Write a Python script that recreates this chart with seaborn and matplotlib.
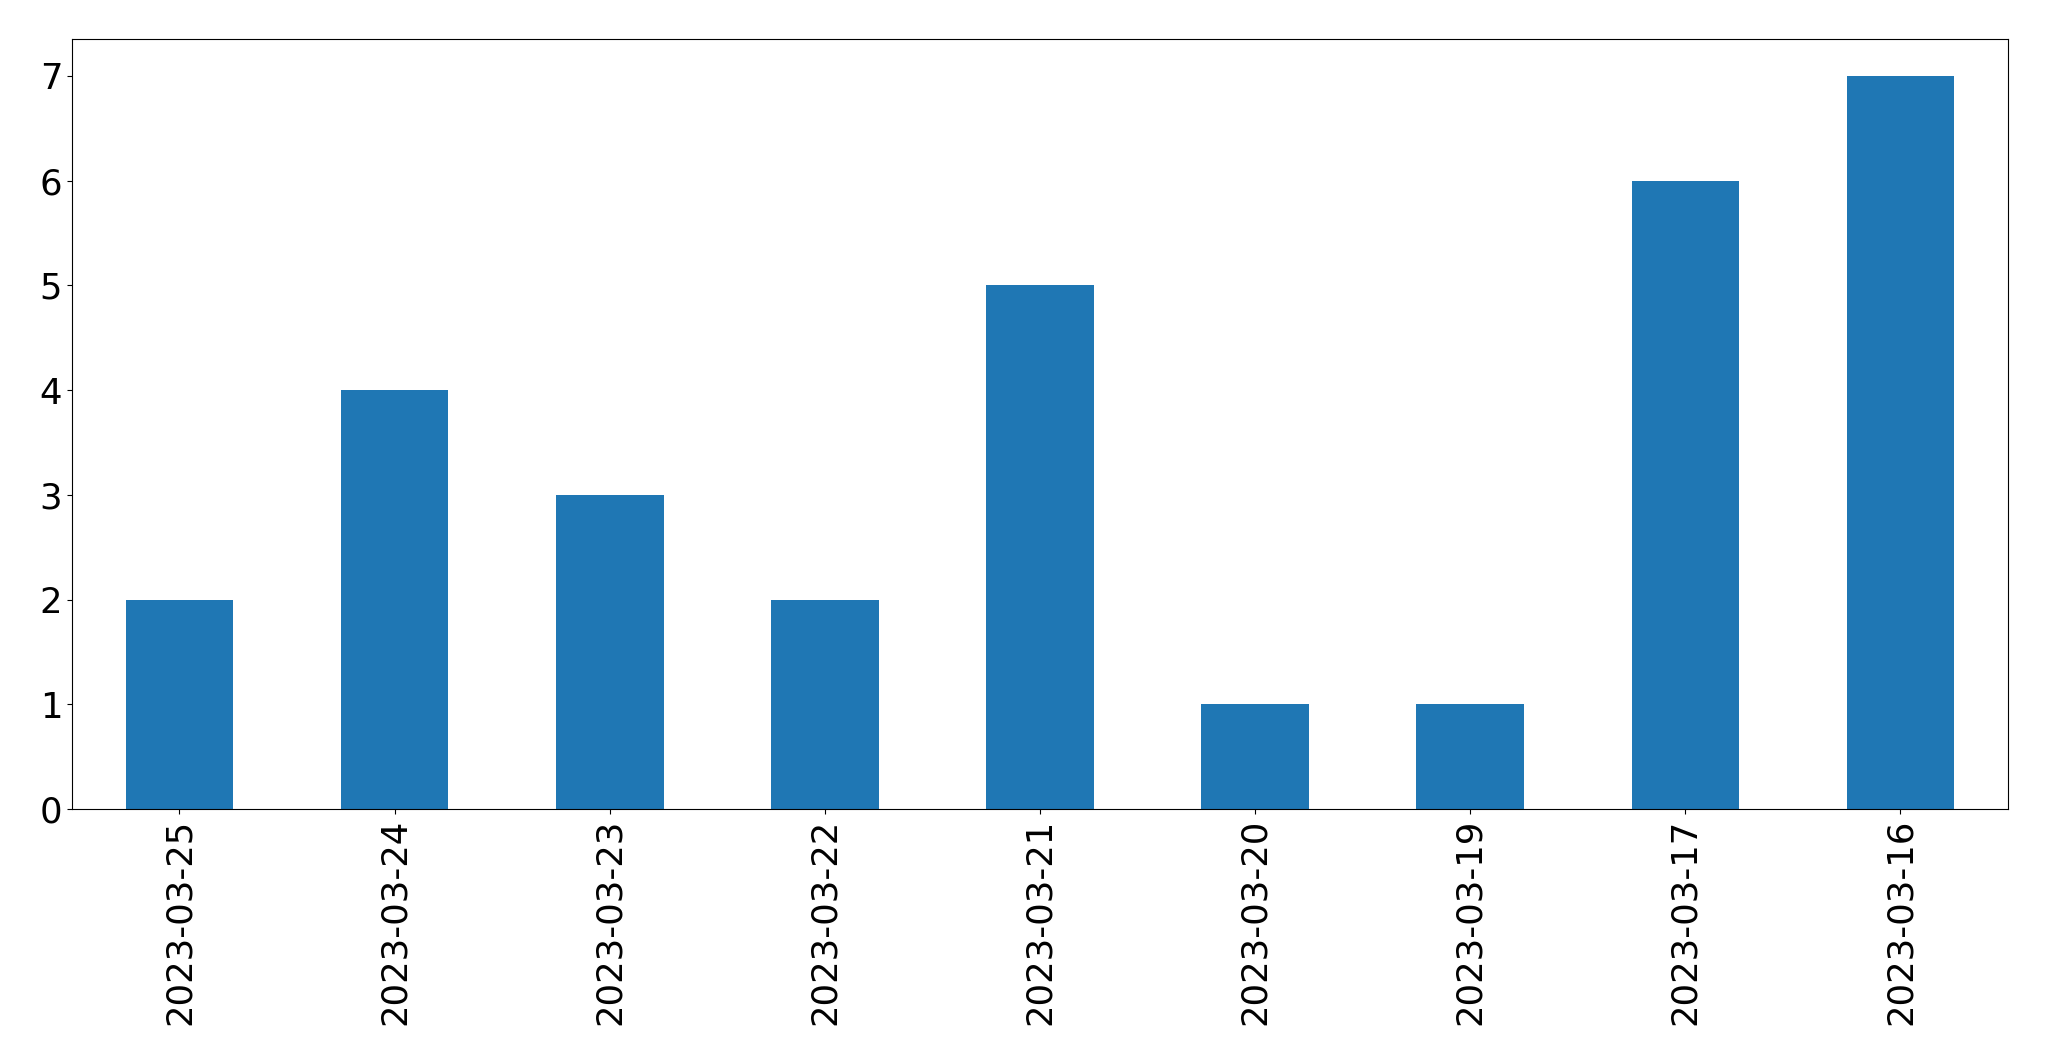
import pandas as pd
import matplotlib
matplotlib.use("Agg")
import matplotlib.pyplot as plt
import seaborn as sns

# Données
dates = ["2023-03-25", "2023-03-24", "2023-03-23", "2023-03-22", "2023-03-21",
         "2023-03-20", "2023-03-19", "2023-03-17", "2023-03-16"]
counts = [2, 4, 3, 2, 5, 1, 1, 6, 7]

df = pd.DataFrame({"date": dates, "count": counts})

fig = plt.figure(figsize=(20.49, 10.61), dpi=100)
ax = fig.add_axes([0.0351, 0.2375, 0.9449, 0.7255])
sns.barplot(data=df, x="date", y="count", order=dates, color="#1f77b4",
            saturation=1, width=0.5, linewidth=0, ax=ax)
ax.set_xlim(-0.5, len(dates) - 0.5)
ax.set_ylim(0, max(counts) * 1.05)
ax.set_xlabel("")
ax.set_ylabel("")
ax.tick_params(axis="both", labelsize=25.6)
plt.setp(ax.get_xticklabels(), rotation=90)
fig.savefig("out.png", dpi=100)
